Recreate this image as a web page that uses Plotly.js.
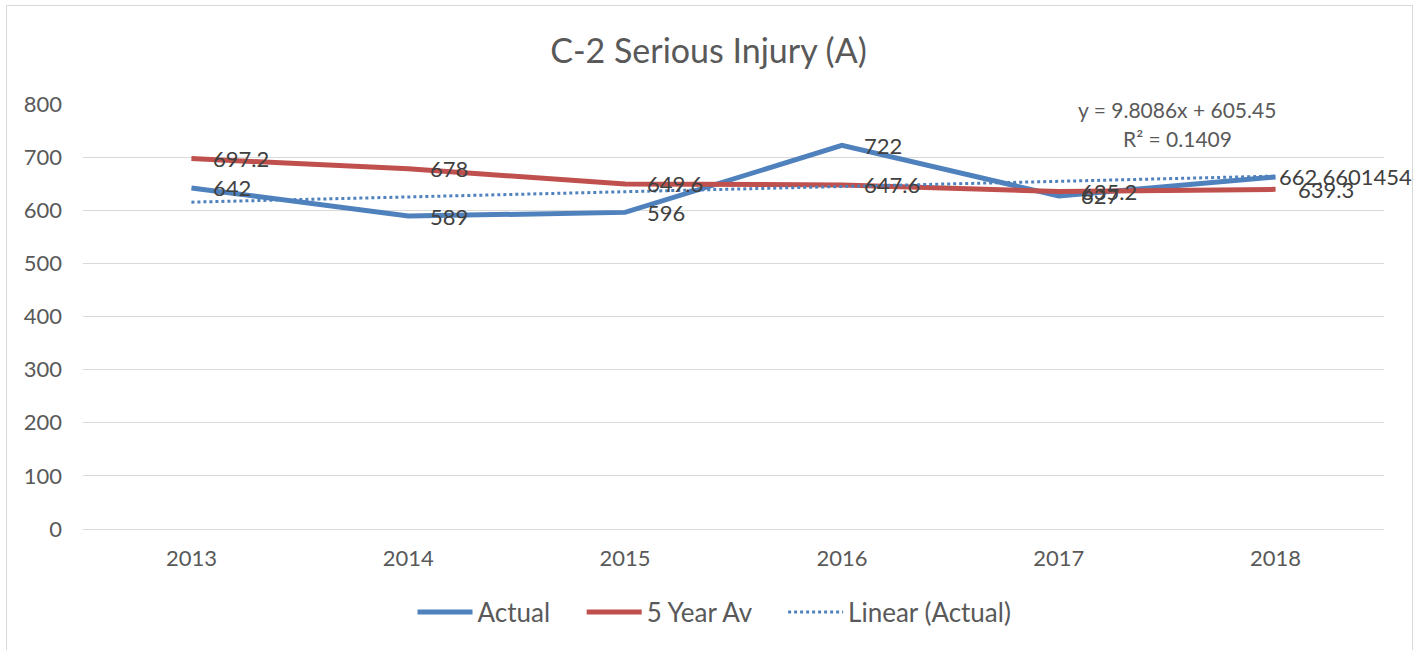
<!DOCTYPE html>
<html>
<head>
<meta charset="utf-8">
<script src="https://cdn.plot.ly/plotly-3.0.1.min.js"></script>
<style>
  html, body { margin: 0; padding: 0; background: #fff; }
  #wrap { position: relative; width: 1417px; height: 650px; overflow: hidden; }
  #frame { position: absolute; left: 6px; top: 5px; width: 1405px; height: 700px; border: 1px solid #d9d9d9; }
  #chart { position: absolute; left: 0; top: 0; width: 1417px; height: 650px; }
</style>
</head>
<body>
<div id="wrap">
  <div id="frame"></div>
  <div id="chart"></div>
</div>
<script>
const years = ["2013", "2014", "2015", "2016", "2017", "2018"];
const actual = [642, 589, 596, 722, 627, 662.6601454];
const fiveYearAv = [697.2, 678, 649.6, 647.6, 635.2, 639.3];
const linearActual = [615.26, 625.07, 634.88, 644.68, 654.49, 664.30];
const actualLabels = ["642", "589", "596", "722", "627", "662.6601454"];
const avLabels = ["697.2", "678", "649.6", "647.6", "635.2", "639.3"];

const BLUE = "#4f81bd";
const RED = "#c0504d";
const FONT = "Lato, 'Open Sans', sans-serif";
const NB = "\u00a0";

const traces = [
  {
    name: "Actual" + NB.repeat(4),
    type: "scatter",
    mode: "lines",
    x: years,
    y: actual,
    line: { color: BLUE, width: 5 },
  },
  {
    name: "5 Year Av" + NB.repeat(4),
    type: "scatter",
    mode: "lines",
    x: years,
    y: fiveYearAv,
    line: { color: RED, width: 5 },
  },
  {
    name: "Linear (Actual)",
    type: "scatter",
    mode: "lines",
    x: years,
    y: linearActual,
    line: { color: BLUE, width: 3, dash: "dot" },
  },
];

// data labels sit to the right of each point; x given as category index.
// the last long label is pulled in so it fits, like the original
function labelNotes(values, labels) {
  return values.map((v, i) => ({
    x: i,
    y: v,
    xref: "x",
    yref: "y",
    text: labels[i],
    showarrow: false,
    xanchor: "left",
    yanchor: "middle",
    xshift: labels[i].length > 8 ? 1 : 20,
    font: { family: FONT, size: 22, color: "#404040" },
  }));
}

const annotations = [
  ...labelNotes(fiveYearAv, avLabels),
  ...labelNotes(actual, actualLabels),
  {
    x: 0.841, y: 0.986, xref: "paper", yref: "paper",
    text: "y = 9.8086x + 605.45",
    showarrow: false, xanchor: "center", yanchor: "middle",
    font: { family: FONT, size: 21, color: "#595959" },
  },
  {
    x: 0.841, y: 0.918, xref: "paper", yref: "paper",
    text: "R² = 0.1409",
    showarrow: false, xanchor: "center", yanchor: "middle",
    font: { family: FONT, size: 21, color: "#595959" },
  },
];

const layout = {
  width: 1417,
  height: 650,
  paper_bgcolor: "rgba(0,0,0,0)",
  plot_bgcolor: "rgba(0,0,0,0)",
  margin: { l: 83, r: 33, t: 104, b: 121 },
  font: { family: FONT, color: "#595959" },
  title: {
    text: "C-2 Serious Injury (A)",
    x: 0.5,
    xanchor: "center",
    y: 0.922,
    yanchor: "middle",
    font: { family: FONT, size: 34, color: "#595959" },
  },
  xaxis: {
    type: "category",
    range: [-0.5, 5.5],
    showgrid: false,
    zeroline: false,
    showline: false,
    ticks: "",
    tickfont: { family: FONT, size: 22, color: "#595959" },
    ticklabelstandoff: 14,
    fixedrange: true,
  },
  yaxis: {
    range: [0, 800],
    dtick: 100,
    showgrid: true,
    gridcolor: "#d9d9d9",
    gridwidth: 1,
    zeroline: true,
    zerolinecolor: "#d9d9d9",
    zerolinewidth: 1,
    showline: false,
    ticks: "",
    tickfont: { family: FONT, size: 22, color: "#595959" },
    ticklabelstandoff: 20,
    fixedrange: true,
  },
  showlegend: true,
  legend: {
    orientation: "h",
    x: 0.4854,
    xanchor: "center",
    y: -0.14,
    yanchor: "top",
    itemwidth: 55,
    font: { family: FONT, size: 26, color: "#595959" },
  },
  annotations: annotations,
};

Plotly.newPlot("chart", traces, layout, { displayModeBar: false, staticPlot: true });
</script>
</body>
</html>
